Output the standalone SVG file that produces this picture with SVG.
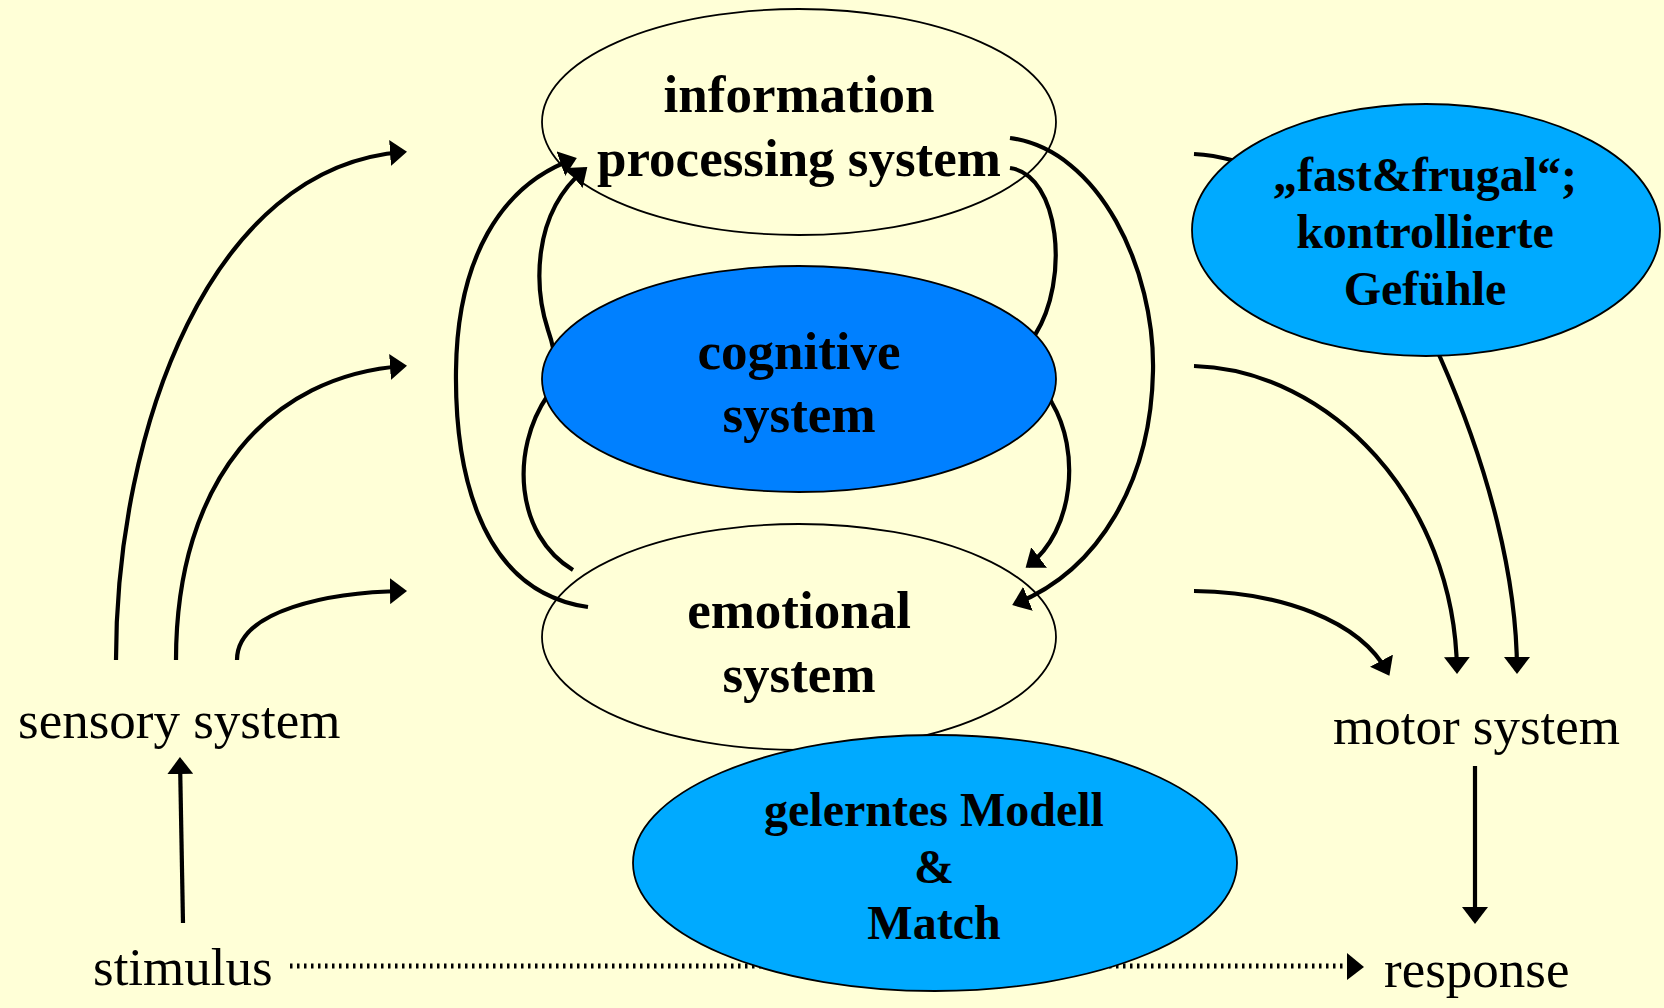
<svg xmlns="http://www.w3.org/2000/svg" width="1664" height="1008" viewBox="0 0 1664 1008">
<style>
.bg{fill:#FFFFD7}
.node{stroke:#000;stroke-width:1.8}
.plain{fill:none}
.cog{fill:#0080FF}
.blue{fill:#00AAFF}
.bt{font-family:"Liberation Serif","Times New Roman",serif;font-weight:bold;font-size:53px;text-anchor:middle;fill:#000}
.bt48{font-family:"Liberation Serif","Times New Roman",serif;font-weight:bold;font-size:48px;text-anchor:middle;fill:#000}
.lt{font-family:"Liberation Serif","Times New Roman",serif;font-size:53px;fill:#000}
.c{fill:none;stroke:#000;stroke-width:4.2}
.dot{fill:none;stroke:#000;stroke-width:5;stroke-dasharray:2.5 4.5}
</style>
<defs>
<marker id="ah" viewBox="0 0 17 26" markerWidth="17" markerHeight="26" refX="14" refY="13" orient="auto" markerUnits="userSpaceOnUse">
<path d="M0,0 L17,13 L0,26 z" fill="#000"/>
</marker>
</defs>
<rect class="bg" x="0" y="0" width="1664" height="1008"/>

<g id="info">
<ellipse class="node plain" cx="799" cy="122" rx="257" ry="113"/>
<text class="bt" x="799" y="112">information</text>
<text class="bt" x="799" y="176">processing system</text>
</g>

<g id="emotional">
<ellipse class="node plain" cx="799" cy="637" rx="257" ry="113"/>
<text class="bt" x="799" y="628">emotional</text>
<text class="bt" x="799" y="692">system</text>
</g>

<g id="connectors">
<path class="c" marker-end="url(#ah)" d="M116,660 C116,430 210,165 404,152"/>
<path class="c" marker-end="url(#ah)" d="M176,660 C176,480 270,375 404,366"/>
<path class="c" marker-end="url(#ah)" d="M237,660 C237,610 330,592 404,591"/>
<path class="c" marker-end="url(#ah)" d="M588,607 C470,590 455,450 456,371 C457,260 500,185 574,159"/>
<path class="c" marker-end="url(#ah)" d="M573,570 C515,535 510,450 548,395 C560,375 555,350 548,330 C535,290 530,215 585,169"/>
<path class="c" marker-end="url(#ah)" d="M1010,138 C1100,150 1155,270 1153,371 C1151,480 1100,570 1015,604"/>
<path class="c" marker-end="url(#ah)" d="M1010,168 C1060,175 1070,280 1035,335 C1020,360 1040,380 1052,403 C1080,450 1075,530 1028,566"/>
<path class="c" marker-end="url(#ah)" d="M1194,154 C1300,160 1400,260 1440,357 C1490,470 1517,580 1517,671"/>
<path class="c" marker-end="url(#ah)" d="M1194,366 C1330,370 1455,500 1457,671"/>
<path class="c" marker-end="url(#ah)" d="M1194,591 C1280,592 1360,620 1388,673"/>
<path class="c" marker-end="url(#ah)" d="M183,923 L180,760"/>
<path class="c" marker-end="url(#ah)" d="M1475,766 L1475,921"/>
<path class="dot" d="M290,966 L1348,966"/>
<path d="M1347,953 L1364,967 L1347,980 z" fill="#000"/>
</g>

<g id="cognitive">
<ellipse class="node cog" cx="799" cy="379" rx="257" ry="113"/>
<text class="bt" x="799" y="369">cognitive</text>
<text class="bt" x="799" y="432">system</text>
</g>

<g id="fastfrugal">
<ellipse class="node blue" cx="1426" cy="230" rx="234" ry="126"/>
<text class="bt48" x="1425" y="191">„fast&amp;frugal“;</text>
<text class="bt48" x="1425" y="248">kontrollierte</text>
<text class="bt48" x="1425" y="305">Gefühle</text>
</g>

<g id="modell">
<ellipse class="node blue" cx="935" cy="863" rx="302" ry="128"/>
<text class="bt48" x="934" y="826">gelerntes Modell</text>
<text class="bt48" x="934" y="883">&amp;</text>
<text class="bt48" x="934" y="939">Match</text>
</g>

<g id="sensory"><text class="lt" x="18" y="738">sensory system</text></g>
<g id="motor"><text class="lt" x="1333" y="744">motor system</text></g>
<g id="stimulus"><text class="lt" x="93" y="985">stimulus</text></g>
<g id="response"><text class="lt" x="1384" y="987">response</text></g>
</svg>
